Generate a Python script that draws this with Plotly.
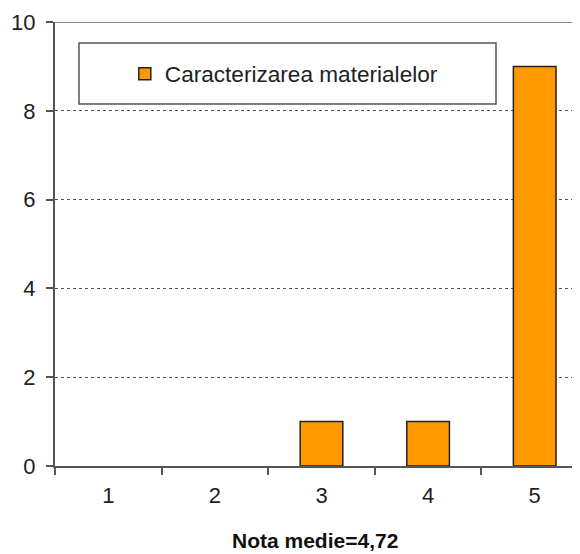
import plotly.graph_objects as go

categories = ["1", "2", "3", "4", "5"]
values = [0, 0, 1, 1, 9]
series_name = "Caracterizarea materialelor"
y_ticks = [0, 2, 4, 6, 8, 10]
x_title = "Nota medie=4,72"

FONT = "Liberation Sans, Arial, sans-serif"

fig = go.Figure()
fig.add_trace(go.Bar(
    x=categories, y=[v if v > 0 else None for v in values], name=series_name,
    marker=dict(color="#FF9900", line=dict(color="#222222", width=1.5)),
    showlegend=True,
))

# page body has an 8px margin, so the figure is offset by 8px
fig.update_layout(
    width=572, height=546,
    margin=dict(l=47, r=0, t=14, b=88),
    paper_bgcolor="white", plot_bgcolor="white",
    bargap=0.6,
    font=dict(family=FONT, color="#222222", size=22),
    showlegend=True,
    legend=dict(
        x=0.133, xanchor="left", y=0.883, yanchor="middle",
        bgcolor="rgba(0,0,0,0)", borderwidth=0,
        font=dict(family=FONT, size=22.6, color="#222222"),
    ),
    xaxis=dict(
        type="category", range=[-0.5, 4.425],
        showline=True, linecolor="#555555", linewidth=2,
        ticks="outside", tickson="boundaries", ticklen=7, tickwidth=2, tickcolor="#555555",
        showgrid=False, ticklabelstandoff=9,
        tickfont=dict(size=22, color="#222222"),
    ),
    yaxis=dict(
        range=[0, 10], tickvals=y_ticks,
        showline=True, linecolor="#555555", linewidth=2,
        ticks="outside", ticklen=7, tickwidth=2, tickcolor="#555555",
        showgrid=True, gridcolor="#555555", gridwidth=1, griddash="dot",
        zeroline=False, ticklabelstandoff=6,
        tickfont=dict(size=22, color="#222222"),
    ),
    shapes=[
        dict(type="line", xref="paper", yref="y", x0=0, x1=1, y0=10, y1=10,
             line=dict(color="#888888", width=2)),
        dict(type="rect", xref="paper", yref="y", x0=0.0457, x1=0.84, y0=8.153, y1=9.527,
             line=dict(color="#555555", width=1.5), fillcolor="white", layer="below"),
    ],
    annotations=[
        dict(text="<b>" + x_title + "</b>", xref="paper", yref="paper",
             x=0.496, y=-0.1667, xanchor="center", yanchor="middle",
             showarrow=False, font=dict(family=FONT, size=21, color="#111111")),
    ],
)

fig.write_html("out.html")
